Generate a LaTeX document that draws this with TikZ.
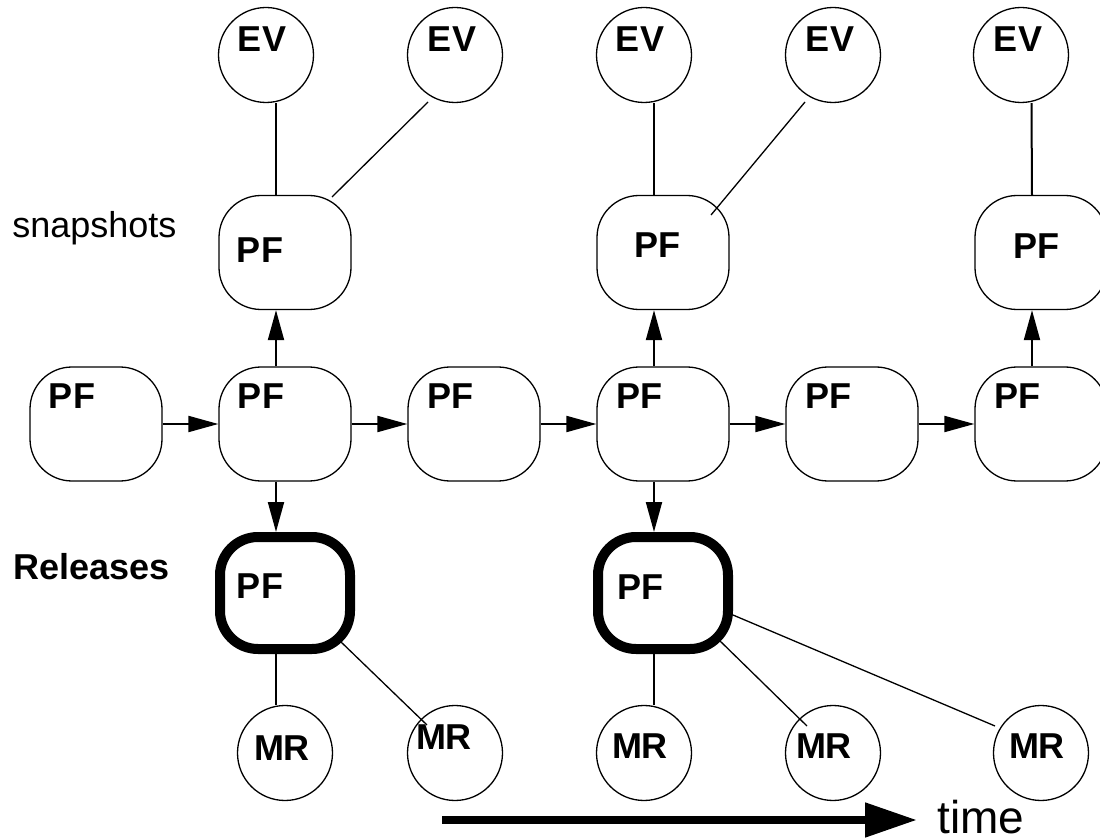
\documentclass[tikz,border=0pt]{standalone}
\usepackage{fontspec}
\setmainfont{Liberation Sans}
\usetikzlibrary{arrows.meta,calc}
\begin{document}
\begin{tikzpicture}[x=0.5pt,y=-0.5pt,
 pfbox/.style={draw,line width=0.65pt,rounded corners=21pt,minimum width=66pt,minimum height=57pt,inner sep=0pt},
 relbox/.style={draw,line width=5pt,rounded corners=19pt,minimum width=65pt,minimum height=56pt,inner sep=0pt},
 circ/.style={draw,circle,line width=0.65pt,minimum size=47.5pt,inner sep=0pt},
 lbl/.style={font=\bfseries\fontsize{18}{18}\selectfont,inner sep=0pt},
 side/.style={font=\fontsize{18}{18}\selectfont,inner sep=0pt,anchor=base west},
 conn/.style={line width=1pt},
 diag/.style={line width=0.65pt},
 arr/.style={line width=1pt,-{Triangle[length=15pt,width=8pt]}},
]
\useasboundingbox (0,0) rectangle (1100,840);

% EV circles
\node[circ] (e1) at (266,55) {};
\node[circ] (e2) at (455,55) {};
\node[circ] (e3) at (644,55) {};
\node[circ] (e4) at (833,55) {};
\node[circ] (e5) at (1021,55) {};
\node[lbl] (te1) at (262,39) {EV};
\node[lbl] (te2) at (452,39) {EV};
\node[lbl] (te3) at (640,39) {EV};
\node[lbl] (te4) at (830,39) {EV};
\node[lbl] (te5) at (1018,39) {EV};

% snapshot boxes
\node[pfbox] (s1) at (285,252.5) {};
\node[pfbox] (s2) at (663,252.5) {};
\node[pfbox] (s3) at (1041,252.5) {};
\node[lbl] (ts1) at (260,250) {PF};
\node[lbl] (ts2) at (657,245) {PF};
\node[lbl] (ts3) at (1036,246) {PF};

% main line
\node[pfbox] (m1) at (96,424) {};
\node[pfbox] (m2) at (285,424) {};
\node[pfbox] (m3) at (474,424) {};
\node[pfbox] (m4) at (663,424) {};
\node[pfbox] (m5) at (852,424) {};
\node[pfbox] (m6) at (1041,424) {};
\node[lbl] (tm1) at (72,396.5) {PF};
\node[lbl] (tm2) at (261,396.5) {PF};
\node[lbl] (tm3) at (450,396.5) {PF};
\node[lbl] (tm4) at (639,396.5) {PF};
\node[lbl] (tm5) at (828,396.5) {PF};
\node[lbl] (tm6) at (1017,396.5) {PF};

% releases
\node[relbox] (r1) at (285,593) {};
\node[relbox] (r2) at (663,593) {};
\node[lbl] (tr1) at (260,586) {PF};
\node[lbl] (tr2) at (640,587) {PF};

% MR circles
\node[circ] (c1) at (285,753) {};
\node[circ] (c2) at (455,753) {};
\node[circ] (c3) at (644,753) {};
\node[circ] (c4) at (833,753) {};
\node[circ] (c5) at (1041,753) {};
\node[lbl] (tc1) at (282,748) {MR};
\node[lbl] (tc2) at (444,737) {MR};
\node[lbl] (tc3) at (640,746) {MR};
\node[lbl] (tc4) at (824,746) {MR};
\node[lbl] (tc5) at (1037,746) {MR};

% side labels
\node[side] (snap) at (12,238) {snapshots};
\node[side,font=\bfseries\fontsize{18}{18}\selectfont] (rel) at (13,580) {Releases};

% EV connectors
\draw[conn] ([xshift=5pt]e1.south) -- ([xshift=-4.5pt]s1.north);
\draw[diag] ($(e2.center)+(-27,47)$) -- ($(s1.center)+(47,-55.5)$);
\draw[conn] ([xshift=5pt]e3.south) -- ([xshift=-4.5pt]s2.north);
\draw[diag] ($(e4.center)+(-28,47)$) -- ($(s2.center)+(48,-37.5)$);
\draw[conn] ([xshift=5.25pt]e5.south) -- ([xshift=-4.5pt]s3.north);

% snapshot arrows
\draw[arr] ([xshift=-4.5pt]m2.north) -- ([xshift=-4.5pt]s1.south);
\draw[arr] ([xshift=-4.5pt]m4.north) -- ([xshift=-4.5pt]s2.south);
\draw[arr] ([xshift=-4.5pt]m6.north) -- ([xshift=-4.5pt]s3.south);

% main arrows
\draw[arr] (m1.east) -- (m2.west);
\draw[arr] (m2.east) -- (m3.west);
\draw[arr] (m3.east) -- (m4.west);
\draw[arr] (m4.east) -- (m5.west);
\draw[arr] (m5.east) -- (m6.west);

% release arrows
\draw[arr] ([xshift=-4.5pt]m2.south) -- ([xshift=-4.5pt]r1.north);
\draw[arr] ([xshift=-4.5pt]m4.south) -- ([xshift=-4.5pt]r2.north);

% MR connectors
\draw[conn] ([xshift=-4.5pt]r1.south) -- ([xshift=-4.5pt]c1.north);
\draw[diag] ($(r1.center)+(55,48)$) -- ($(c2.center)+(-28,-28)$);
\draw[conn] ([xshift=-4.5pt]r2.south) -- ([xshift=5pt]c3.north);
\draw[diag] ($(r2.center)+(55,46)$) -- ($(c4.center)+(-26,-27)$);
\draw[diag] ($(r2.center)+(70,22)$) -- ($(c5.center)+(-46,-27)$);

% time arrow
\coordinate (t0) at (442,820);
\coordinate (t1) at (917,820);
\draw[line width=4pt,-{Triangle[length=26pt,width=16.5pt]}] (t0) -- (t1);
\node[font=\fontsize{23}{23}\selectfont,inner sep=0pt,anchor=base west] (time) at (937,833) {time};
\end{tikzpicture}
\end{document}
